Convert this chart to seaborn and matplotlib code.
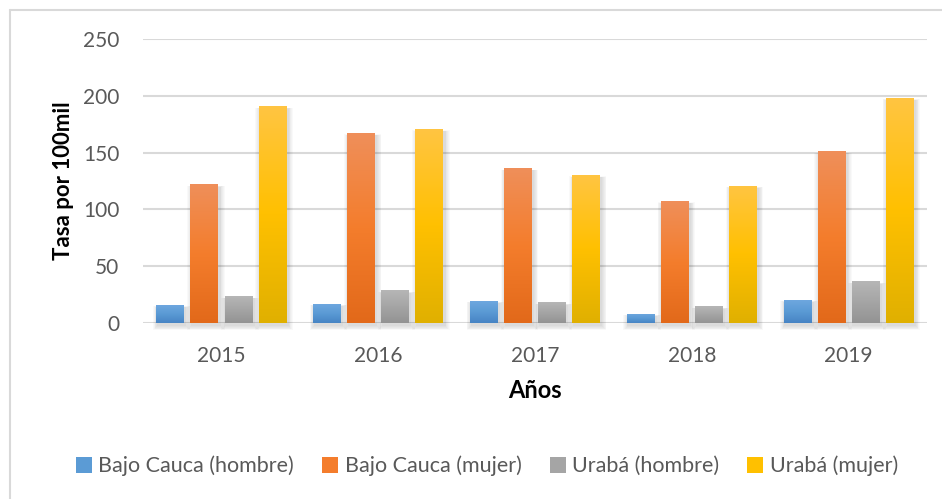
import matplotlib
matplotlib.use("Agg")
import matplotlib.pyplot as plt
from matplotlib.patches import Patch, Rectangle
from matplotlib.colors import LinearSegmentedColormap
import numpy as np
import pandas as pd
import seaborn as sns

# Data
years = ["2015", "2016", "2017", "2018", "2019"]
series = ["Bajo Cauca (hombre)", "Bajo Cauca (mujer)", "Urabá (hombre)", "Urabá (mujer)"]
bajo_cauca_hombre = [16, 17, 19.6, 8.2, 20.5]
bajo_cauca_mujer = [122, 167.5, 136.5, 107.5, 151.5]
uraba_hombre = [23.5, 28.5, 18, 14.5, 36.5]
uraba_mujer = [191, 171, 130.5, 121, 198.5]
yticks = [0, 50, 100, 150, 200, 250]

# Gradient stops (top, middle, bottom) and legend swatch colour per series
gradients = {
    "Bajo Cauca (hombre)": ["#70A8E0", "#5B9BD5", "#4784C4"],
    "Bajo Cauca (mujer)": ["#EF8F5A", "#F47D2C", "#E2691A"],
    "Urabá (hombre)": ["#B6B6B6", "#A5A5A5", "#939393"],
    "Urabá (mujer)": ["#FFC542", "#FFC000", "#E0B000"],
}
palette = {k: v[1] for k, v in gradients.items()}

df = pd.DataFrame({
    "Año": years * 4,
    "Serie": np.repeat(series, len(years)),
    "Tasa": bajo_cauca_hombre + bajo_cauca_mujer + uraba_hombre + uraba_mujer,
})

sns.set_theme(style="white")
plt.rcParams["font.family"] = ["Lato", "DejaVu Sans"]

W, H = 942, 499
fig = plt.figure(figsize=(W / 100, H / 100), dpi=100)
ax = fig.add_axes([143 / W, 1 - 322.8 / H, (927 - 143) / W, (322.8 - 39.3) / H])

sns.barplot(data=df, x="Año", y="Tasa", hue="Serie", hue_order=series,
            order=years, palette=palette, width=0.87, gap=0.185,
            errorbar=None, legend=False, ax=ax, zorder=3)

ax.set_ylim(0, 250)
ax.set_xlim(-0.5, len(years) - 0.5)
ax.set_yticks(yticks)
ax.grid(axis="y", color="#D9D9D9", linewidth=1.5, zorder=0)
ax.grid(axis="x", visible=False)
for s in ax.spines.values():
    s.set_visible(False)
ax.tick_params(axis="both", length=0, labelsize=15, labelcolor="#595959")
ax.tick_params(axis="y", pad=17)
ax.tick_params(axis="x", pad=17)
ax.set_xlabel("Años", fontsize=17, fontweight="bold", color="black")
ax.set_ylabel("Tasa por 100mil", fontsize=16, fontweight="bold", color="black")
ax.xaxis.set_label_coords(0.5, -(391 - 322.8) / (322.8 - 39.3))
ax.xaxis.label.set_va("center")
ax.yaxis.set_label_coords((63 - 143) / (927 - 143), 0.5)
ax.yaxis.label.set_ha("center")
ax.yaxis.label.set_va("center")

# pixel size in data units
px_x = (len(years)) / (927 - 143)
px_y = 250 / (322.8 - 39.3)

grad_img = np.linspace(0, 1, 256).reshape(-1, 1)
for name, cont in zip(series, ax.containers):
    cmap = LinearSegmentedColormap.from_list(name, gradients[name][::-1])
    for bar in cont:
        x0, w = bar.get_x(), bar.get_width()
        h = bar.get_height()
        # soft drop shadow
        for i in range(6):
            grow = (6 - i) * 0.8
            ax.add_patch(Rectangle((x0 - grow * px_x + 1.5 * px_x, -grow * px_y - 2.5 * px_y),
                                   w + 2 * grow * px_x, h + 1.2 * grow * px_y,
                                   facecolor="black", edgecolor="none", alpha=0.025,
                                   zorder=2, clip_on=False))
        bar.set_facecolor("none")
        bar.set_edgecolor("none")
        im = ax.imshow(grad_img, cmap=cmap, aspect="auto", origin="lower",
                       extent=(x0, x0 + w, 0, h), zorder=3, interpolation="bilinear")
        im.set_clip_path(bar)

ax.set_xlim(-0.5, len(years) - 0.5)
ax.set_ylim(0, 250)

handles = [Patch(facecolor=palette[s], edgecolor="none", label=s) for s in series]
fig.legend(handles=handles, loc="center", bbox_to_anchor=(487 / W, 1 - 466 / H),
           ncol=4, frameon=False, fontsize=15.5, handlelength=0.75, handleheight=0.75,
           handletextpad=0.3, columnspacing=1.3, labelcolor="#595959")

# chart frame (top and left edges)
fig.add_artist(plt.Line2D([10 / W, 10 / W], [0, 1 - 10 / H], color="#D9D9D9", lw=1.5,
                          transform=fig.transFigure))
fig.add_artist(plt.Line2D([10 / W, 1], [1 - 10 / H, 1 - 10 / H], color="#D9D9D9", lw=1.5,
                          transform=fig.transFigure))

fig.savefig("out.png", dpi=100)
